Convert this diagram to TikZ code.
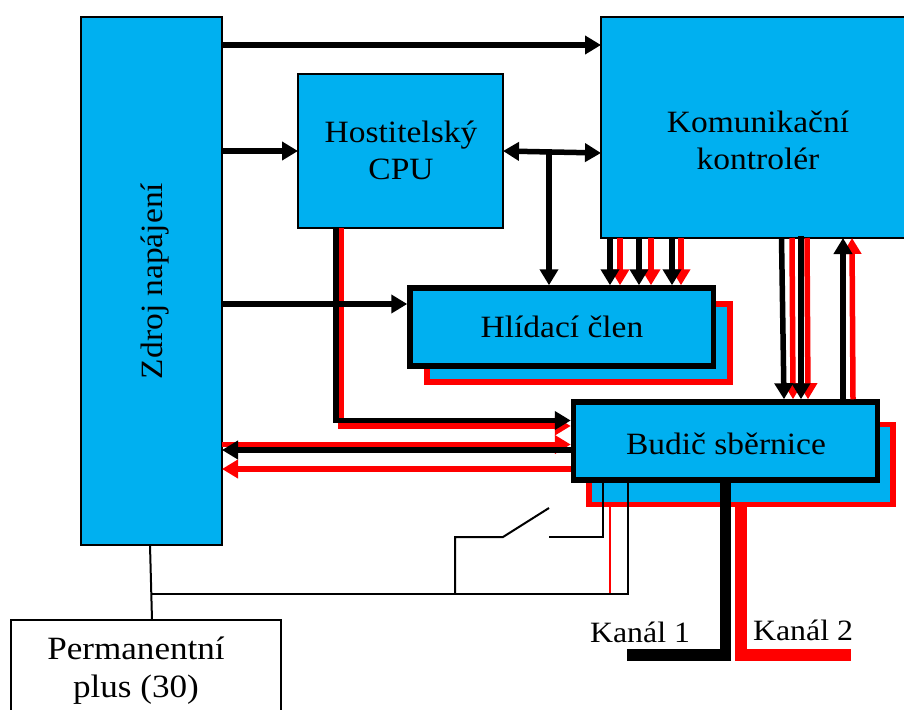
\documentclass[tikz,border=0pt]{standalone}
\usepackage{fontspec}
\setmainfont[FakeStretch=1.08]{Liberation Serif}
\usepackage{xcolor}
\definecolor{blok}{HTML}{00B0F0}
\usepackage{tikz}
\usetikzlibrary{arrows.meta, positioning, calc}

\begin{document}
\begin{tikzpicture}[
    x=1pt, y=-1pt,
    block/.style={
        rectangle, draw, fill=blok,
        inner sep=0pt, outer sep=0pt,
        line width=2pt
    },
    thickblock/.style={block, line width=5.5pt, outer sep=auto},
    backblock/.style={block, draw=red, line width=5.5pt},
    txt/.style={align=center, inner sep=0pt, font=\fontsize{31}{37}\selectfont},
    arr/.style={-{Triangle[length=16pt, width=18pt]}, line width=5.5pt},
    arrred/.style={arr, red},
    wire/.style={line width=2pt},
    bus/.style={line width=11.5pt}
]
    \clip (0,0) rectangle (904,709);

    % bloky
    \node[block, minimum width=141pt, minimum height=528pt] (zdroj) at (151.5,281) {};
    \node[block, minimum width=205pt, minimum height=154pt] (cpu) at (400.5,151) {};
    \node[block, minimum width=314pt, minimum height=221pt] (ctrl) at (758,127.5) {};
    \node[backblock, minimum width=303pt, minimum height=78pt] (hlidback) at (578.5,343) {};
    \node[thickblock, minimum width=303.5pt, minimum height=78pt] (hlid) at (561.75,327) {};
    \node[backblock, minimum width=304pt, minimum height=80pt] (budicback) at (741,464.5) {};
    \node[thickblock, minimum width=304pt, minimum height=78pt] (budic) at (725.5,441) {};
    \node[block, fill=white, minimum width=270pt, minimum height=110pt] (perm) at (146,675) {};

    % texty
    \node[txt, rotate=90] (zdrojtxt) at (155,281) {Zdroj napájení};
    \node[txt] (cputxt) at (401,150) {Hostitelský\\CPU};
    \node[txt] (ctrltxt) at (758,140) {Komunikační\\kontrolér};
    \node[txt] (hlidtxt) at (562,327) {Hlídací člen};
    \node[txt] (budictxt) at (726,444) {Budič sběrnice};
    \node[txt, font=\fontsize{32.5}{38}\selectfont] (permtxt) at (136,671) {Permanentní\\plus (30)};
    \node[txt, font=\fontsize{29.5}{36}\selectfont] (kanal1) at (640,632) {Kanál 1};
    \node[txt, font=\fontsize{29.5}{36}\selectfont] (kanal2) at (803,630) {Kanál 2};

    % napajeni a CPU
    \draw[arr] (222,45 -| zdroj.east) -- (601,45 -| ctrl.west);
    \draw[arr] (zdroj.east |- cpu.west) -- (cpu.west);
    \draw[arr, {Triangle[length=16pt, width=18pt]}-{Triangle[length=16pt, width=18pt]}] (cpu.east) -- (601,153 -| ctrl.west);
    \draw[arr] (cpu.east -| 549,0) -- (549,0 |- hlid.north);

    % CPU -> budic
    \draw[arrred] (341,0 |- cpu.south) -- (341,426) -- (budic.west |- 0,426);
    \draw[arr] (336,0 |- cpu.south) -- (336,420.5) -- (budic.west |- 0,420.5);
    \draw[arr] (zdroj.east |- 0,304) -- (hlid.west |- 0,304);

    % ctrl -> hlidaci clen
    \foreach \rx in {620,651,681}
        \draw[arrred] (\rx,0 |- ctrl.south) -- (\rx,0 |- hlid.north);
    \foreach \bx in {610,639,672}
        \draw[arr] (\bx,0 |- ctrl.south) -- (\bx,0 |- hlid.north);

    % ctrl <-> budic
    \draw[arrred] (792,0 |- ctrl.south) -- (793,0 |- budic.north);
    \draw[arrred] (807,0 |- ctrl.south) -- (808,0 |- budic.north);
    \draw[arr] (781.5,0 |- ctrl.south) -- (784,0 |- budic.north);
    \draw[arr] (801,236) -- (801,0 |- budic.north);
    \draw[arrred] (853,0 |- budic.north) -- (852,0 |- ctrl.south);
    \draw[arr] (843,0 |- budic.north) -- (843,0 |- ctrl.south);

    % budic -> napajeni
    \draw[arrred] (zdroj.east |- 0,444.5) -- (budic.west |- 0,444.5);
    \draw[arrred] (budic.west |- 0,469) -- (zdroj.east |- 0,469);
    \draw[arr] (budic.west |- 0,450) -- (zdroj.east |- 0,450);

    % tenke vodice
    \coordinate (uzel) at (151.5,594);
    \coordinate (spinacL) at (503,537);
    \coordinate (spinacR) at (549,537);
    \draw[wire] (150,0 |- zdroj.south) -- (perm.north -| 152,0);
    \draw[red, line width=1.2pt] (610,0 |- budicback.south) -- (610,594);
    \draw[wire] (uzel) -- (628,594) -- (628,0 |- budic.south);
    \draw[wire] (455,594) -- (455,537) -- (spinacL) -- (549,508);
    \draw[wire] (spinacR) -- (602.7,537) -- (602.7,0 |- budic.south);

    % kanaly
    \draw[bus, red] (741,507) -- (741,655) -- (851,655);
    \draw[bus] (725.5,0 |- budic.south) -- (725.5,655) -- (627,655);
\end{tikzpicture}
\end{document}
